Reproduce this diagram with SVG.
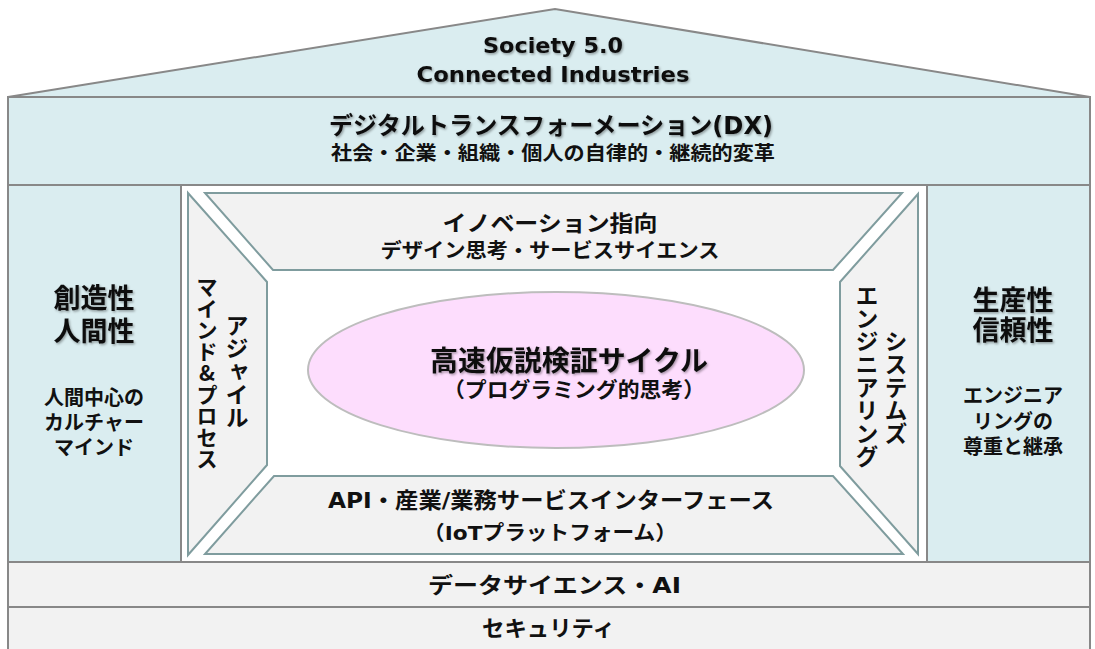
<svg xmlns="http://www.w3.org/2000/svg" width="1095" height="649" viewBox="0 0 1095 649">
<defs>
<filter id="sh" x="-10%" y="-30%" width="120%" height="160%">
<feDropShadow dx="1.2" dy="1.5" stdDeviation="1.2" flood-color="#000" flood-opacity="0.35"/>
</filter>
</defs>
<style>
.band{fill:#daedf0;stroke:#888;stroke-width:2}
.bar{fill:#f2f2f2;stroke:#888;stroke-width:2}
.trap{fill:#f2f2f2;stroke:#7f9c9e;stroke-width:2}
.t{font-family:"DejaVu Sans","Noto Sans CJK JP",sans-serif;font-weight:bold;fill:#111}
.j{font-family:"Noto Sans CJK JP",sans-serif;font-weight:bold;fill:#111}
.m{text-anchor:middle}
.v{font-family:"Noto Sans CJK JP",sans-serif;font-weight:bold;fill:#111;writing-mode:vertical-rl;text-orientation:upright;text-anchor:middle}
.hd{filter:url(#sh)}
</style>
<rect x="0" y="0" width="1095" height="649" fill="#fff"/>
<g id="roof">
<polygon class="band" points="8,97 555,9 1090,97"/>
<text class="t m hd" font-size="22"><tspan x="553" y="53" textLength="140" lengthAdjust="spacingAndGlyphs">Society 5.0</tspan><tspan x="553" y="82" textLength="273" lengthAdjust="spacingAndGlyphs">Connected Industries</tspan></text>
</g>
<g id="dx">
<rect class="band" x="8" y="97" width="1082" height="88"/>
<text class="t m hd" x="551" y="134" font-size="24" textLength="444" lengthAdjust="spacingAndGlyphs">デジタルトランスフォーメーション(DX)</text>
<text class="j m" x="553" y="160" font-size="19.5" textLength="444" lengthAdjust="spacingAndGlyphs">社会・企業・組織・個人の自律的・継続的変革</text>
</g>
<g id="left-column">
<rect class="band" x="8" y="185" width="173" height="377"/>
<text class="j m hd" font-size="27"><tspan x="94" y="308">創造性</tspan><tspan x="94" y="341">人間性</tspan></text>
<text class="j m" font-size="20"><tspan x="94" y="405">人間中心の</tspan><tspan x="94" y="430">カルチャー</tspan><tspan x="94" y="455">マインド</tspan></text>
</g>
<g id="right-column">
<rect class="band" x="927" y="185" width="163" height="377"/>
<text class="j m hd" font-size="27"><tspan x="1013" y="310">生産性</tspan><tspan x="1013" y="340">信頼性</tspan></text>
<text class="j m" font-size="20"><tspan x="1013" y="403">エンジニア</tspan><tspan x="1013" y="429">リングの</tspan><tspan x="1013" y="454">尊重と継承</tspan></text>
</g>
<g id="center">
<rect x="181" y="185" width="746" height="377" fill="#fff" stroke="#888" stroke-width="2"/>
</g>
<g id="innovation">
<polygon class="trap" points="205,193 902,193 833,270 273,270"/>
<text class="j m" x="550" y="231" font-size="22" textLength="215" lengthAdjust="spacingAndGlyphs">イノベーション指向</text>
<text class="j m" x="550" y="258" font-size="20" textLength="339" lengthAdjust="spacingAndGlyphs">デザイン思考・サービスサイエンス</text>
</g>
<g id="agile">
<polygon class="trap" points="188,193 267,282 267,465 188,555"/>
<text class="v" x="237" y="371" font-size="23">アジャイル</text>
<text class="v" x="207" y="373" font-size="21.5">マインド&amp;プロセス</text>
</g>
<g id="systems">
<polygon class="trap" points="918,194 840,282 840,466 918,554"/>
<text class="v" x="896" y="387" font-size="23">システムズ</text>
<text class="v" x="867" y="376" font-size="23">エンジニアリング</text>
</g>
<g id="api">
<polygon class="trap" points="274,476 833,476 903,554 205,554"/>
<text class="t" x="328" y="508" font-size="22" textLength="446" lengthAdjust="spacingAndGlyphs">API・産業/業務サービスインターフェース</text>
<text class="t" x="423" y="540" font-size="20" textLength="254" lengthAdjust="spacingAndGlyphs">（IoTプラットフォーム）</text>
</g>
<g id="cycle">
<ellipse cx="556" cy="370" rx="248" ry="78" fill="#fdddfd" stroke="#bdbdbd" stroke-width="2"/>
<text class="j"><tspan class="hd" x="430" y="371" font-size="28" textLength="278" lengthAdjust="spacingAndGlyphs">高速仮説検証サイクル</tspan><tspan x="443" y="397" font-size="21" textLength="262" lengthAdjust="spacingAndGlyphs">（プログラミング的思考）</tspan></text>
</g>
<g id="data-science">
<rect class="bar" x="8" y="562" width="1082" height="45"/>
<text class="t" x="428" y="593" font-size="22" textLength="253" lengthAdjust="spacingAndGlyphs">データサイエンス・AI</text>
</g>
<g id="security">
<rect class="bar" x="8" y="607" width="1082" height="44"/>
<text class="j" x="482" y="636" font-size="22" textLength="133" lengthAdjust="spacingAndGlyphs">セキュリティ</text>
</g>
<g id="connectors"></g>
</svg>
